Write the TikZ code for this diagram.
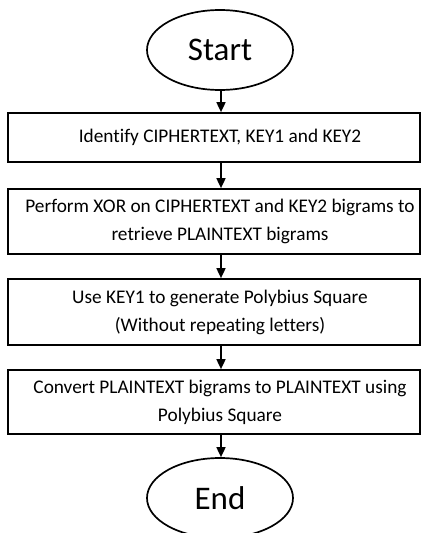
\documentclass[tikz,border=0pt]{standalone}
\usepackage{fontspec}
\setmainfont{Carlito}[Ligatures=CommonOff]
\usetikzlibrary{shapes.geometric,arrows.meta}
\begin{document}
\begin{tikzpicture}[x=1pt,y=-1pt,
  term/.style={ellipse,draw,line width=1.7pt,minimum width=146pt,minimum height=80pt,inner sep=0pt,font=\fontsize{33}{38}\selectfont},
  procbox/.style={rectangle,draw,line width=1.7pt,minimum width=412pt,inner sep=0pt,align=center,font=\fontsize{19.3}{28}\selectfont},
  flow/.style={line width=1.7pt,-{Triangle[length=10pt,width=9pt]}}]
\useasboundingbox (0,0) rectangle (421,533);
\node[term] (s) at (220,50) {Start};
\node[procbox,minimum height=49pt] (b1) at (214,137.5) {\hspace*{12pt}Identify CIPHERTEXT, KEY1 and KEY2};
\node[procbox,minimum height=65pt] (b2) at (214,221.5) {\hspace*{12pt}\parbox{400pt}{\centering\fontsize{19.3}{28}\selectfont Perform XOR on CIPHERTEXT and KEY2 bigrams to\\retrieve PLAINTEXT bigrams}};
\node[procbox,minimum height=66pt] (b3) at (214,312) {\hspace*{12pt}\parbox{400pt}{\centering\fontsize{19.3}{28}\selectfont Use KEY1 to generate Polybius Square\\(Without repeating letters)}};
\node[procbox,minimum height=64pt] (b4) at (214,402) {\hspace*{12pt}\parbox{400pt}{\centering\fontsize{19.3}{28}\selectfont Convert PLAINTEXT bigrams to PLAINTEXT using\\Polybius Square}};
\node[term] (e) at (220,498) {End};
\coordinate (ax) at (221,0);
\draw[flow] (s.south -| ax) -- (b1.north -| ax);
\draw[flow] (b1.south -| ax) -- (b2.north -| ax);
\draw[flow] (b2.south -| ax) -- (b3.north -| ax);
\draw[flow] (b3.south -| ax) -- (b4.north -| ax);
\draw[flow] (b4.south -| ax) -- (e.north -| ax);
\end{tikzpicture}
\end{document}
